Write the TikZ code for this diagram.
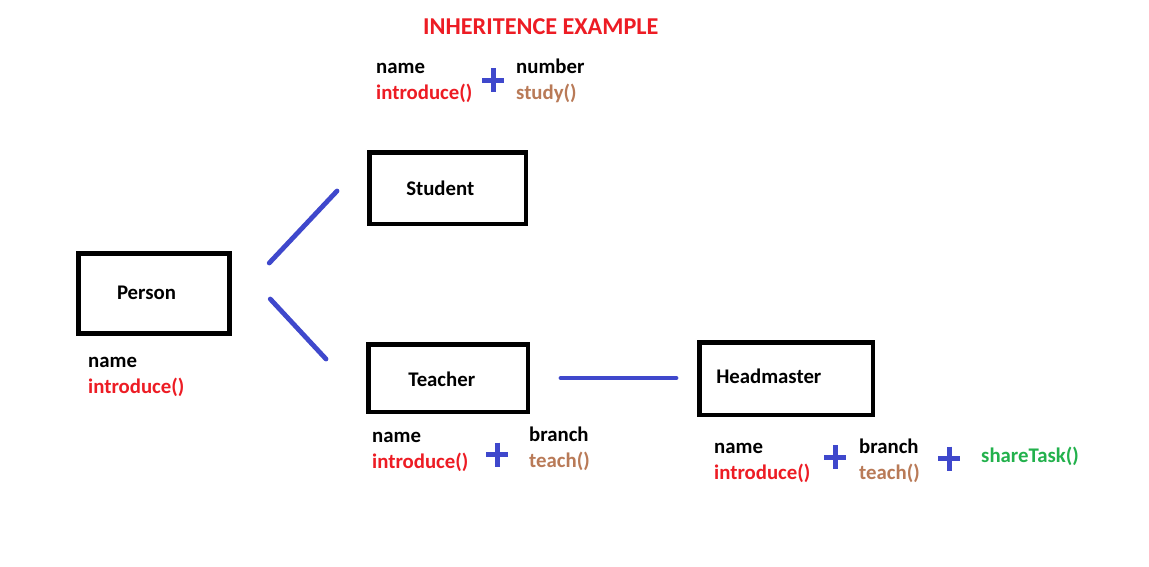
\documentclass[tikz,border=0pt]{standalone}
\usepackage{fontspec}
\setmainfont{Carlito}
\usetikzlibrary{calc}
\definecolor{pred}{RGB}{237,28,36}
\definecolor{pbrown}{RGB}{185,122,87}
\definecolor{pgreen}{RGB}{34,177,76}
\definecolor{pblue}{RGB}{63,72,204}
\tikzset{
  box/.style={draw=black, line width=4.5pt, align=left, inner ysep=0pt, font=\fontsize{20.8}{25}\selectfont\bfseries},
  attr/.style={anchor=base west, inner sep=0pt, font=\fontsize{20.8}{25}\selectfont\bfseries},
  link/.style={draw=pblue, line width=4.8pt, line cap=round},
  plussign/.style={draw=pblue, line width=5pt},
}
\begin{document}
\begin{tikzpicture}[x=1pt,y=-1pt]
\useasboundingbox[fill=white] (0,0) rectangle (1149,566);

\node[attr, text=pred, font=\fontsize{24.2}{29}\selectfont\bfseries] (title) at (423,34) {INHERITENCE EXAMPLE};

\node[box, minimum width=151pt, minimum height=80pt, inner xsep=38.5pt, text width=74pt, text depth=2pt] (person) at (154,293.5) {Person};
\node[box, minimum width=156.5pt, minimum height=71.5pt, inner xsep=37pt, text width=82.5pt] (student) at (447.5,188) {Student};
\node[box, minimum width=159.5pt, minimum height=67.5pt, inner xsep=40pt, text width=79.5pt, text height=17.4pt] (teacher) at (448,378) {Teacher};
\node[box, minimum width=173.5pt, minimum height=72.5pt, inner xsep=17pt, text width=139.5pt, text depth=4pt] (headmaster) at (786,378.5) {Headmaster};

\draw[link] ($(person.east)+(37.5,-30.5)$) -- ($(student.west)+(-30,3)$);
\draw[link] ($(person.east)+(38.5,5.5)$) -- ($(teacher.west)+(-40,-19)$);
\draw[link] ($(teacher.east)+(31,0)$) -- ($(headmaster.west)+(-21,-0.5)$);

% top
\node[attr] (sname) at (376,73) {name};
\node[attr, text=pred] (sintro) at (376,99.5) {introduce()};
\node[attr] (snum) at (516,73) {number};
\node[attr, text=pbrown] (sstudy) at (516,99.5) {study()};
\coordinate (p1) at (493,80);
% person
\node[attr] (pname) at (88,367) {name};
\node[attr, text=pred] (pintro) at (88,393.5) {introduce()};
% teacher
\node[attr] (tname) at (372,442) {name};
\node[attr, text=pred] (tintro) at (372,468.5) {introduce()};
\node[attr] (tbranch) at (529,441) {branch};
\node[attr, text=pbrown] (tteach) at (529,467.5) {teach()};
\coordinate (p2) at (497,454.5);
% headmaster
\node[attr] (hname) at (714,453) {name};
\node[attr, text=pred] (hintro) at (714,479.5) {introduce()};
\node[attr] (hbranch) at (859,453) {branch};
\node[attr, text=pbrown] (hteach) at (859,479.5) {teach()};
\node[attr, text=pgreen] (hshare) at (981,462) {shareTask()};
\coordinate (p3) at (835,457);
\coordinate (p4) at (949,458.5);

\foreach \p in {p1,p2,p3,p4}{
  \draw[plussign] (\p) +(-11,0) -- +(11,0);
  \draw[plussign] (\p) +(0,-12) -- +(0,12);
}
\end{tikzpicture}
\end{document}
